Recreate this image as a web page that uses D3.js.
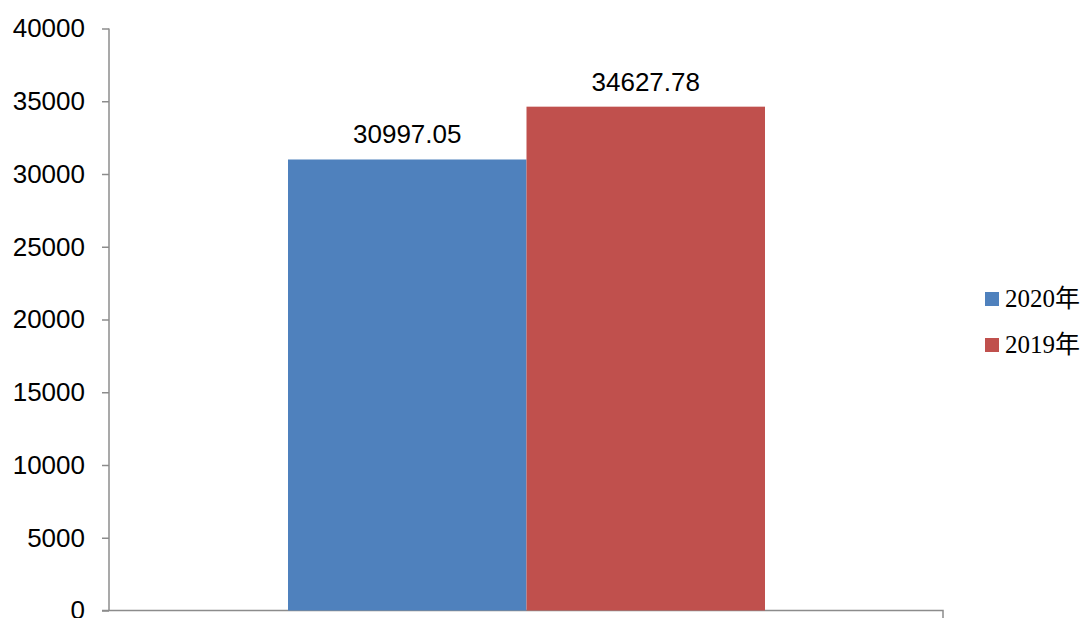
<!DOCTYPE html>
<html>
<head>
<meta charset="utf-8">
<script src="https://cdn.jsdelivr.net/npm/d3@7"></script>
<style>
  body { margin: 0; background: #fff; }
  svg { display: block; }
</style>
</head>
<body>
<svg id="grafico" width="1088" height="618"></svg>
<script>
let series = ['2020年', '2019年'];
let valores = [30997.05, 34627.78];
let cores = ['#4f81bd', '#c0504d'];
let ticks = [0, 5000, 10000, 15000, 20000, 25000, 30000, 35000, 40000];

let svg = d3.select('#grafico');

let esquerda = 109, direita = 943, topo = 28.5, base = 610.5;

let fny = d3.scaleLinear()
    .domain([0, 40000])
    .range([base, topo]);

// uma categoria só, as duas séries lado a lado
let fnx = d3.scaleBand()
    .domain(series)
    .range([288, 765]);

// eixo y
let eixoY = svg.append('g')
    .attr('transform', `translate(${esquerda},0)`)
    .call(d3.axisLeft(fny).tickValues(ticks).tickSize(7).tickPadding(17).tickFormat(d3.format('d')));
eixoY.select('.domain').attr('stroke', '#8c8c8c').attr('stroke-width', 1.5).attr('d', `M0,${topo}V${base}`);
eixoY.selectAll('.tick line').attr('stroke', '#8c8c8c').attr('stroke-width', 1.5);
eixoY.selectAll('.tick text')
    .attr('fill', '#000')
    .style('font-family', 'Liberation Sans, Arial, sans-serif')
    .style('font-size', '26px');

// eixo x
svg.append('path')
    .attr('d', `M${esquerda - 7},${base}H${direita}V${base + 8}`)
    .attr('fill', 'none')
    .attr('stroke', '#8c8c8c')
    .attr('stroke-width', 1.5);

// barras
svg.selectAll('.coluna')
    .data(valores)
    .join('rect')
    .attr('class', 'coluna')
    .attr('x', (d, i) => fnx(series[i]))
    .attr('y', d => fny(d))
    .attr('width', fnx.bandwidth())
    .attr('height', d => base - fny(d))
    .attr('fill', (d, i) => cores[i]);

svg.selectAll('.rotulo')
    .data(valores)
    .join('text')
    .attr('class', 'rotulo')
    .text(d => d.toFixed(2))
    .attr('x', (d, i) => fnx(series[i]) + fnx.bandwidth() / 2)
    .attr('y', d => fny(d))
    .attr('dy', -16)
    .attr('text-anchor', 'middle')
    .style('font-family', 'Liberation Sans, Arial, sans-serif')
    .style('font-size', '26px');

// legenda
let legenda = svg.selectAll('.legenda')
    .data(series)
    .join('g')
    .attr('class', 'legenda')
    .attr('transform', (d, i) => `translate(985,${292 + i * 46})`);
legenda.append('rect')
    .attr('width', 14)
    .attr('height', 14)
    .attr('fill', (d, i) => cores[i]);
legenda.append('text')
    .attr('x', 20)
    .attr('y', 15)
    .text(d => d)
    .style('font-family', 'Liberation Serif, Times New Roman, Noto Sans CJK SC, serif')
    .style('font-size', '25px');
</script>
</body>
</html>
